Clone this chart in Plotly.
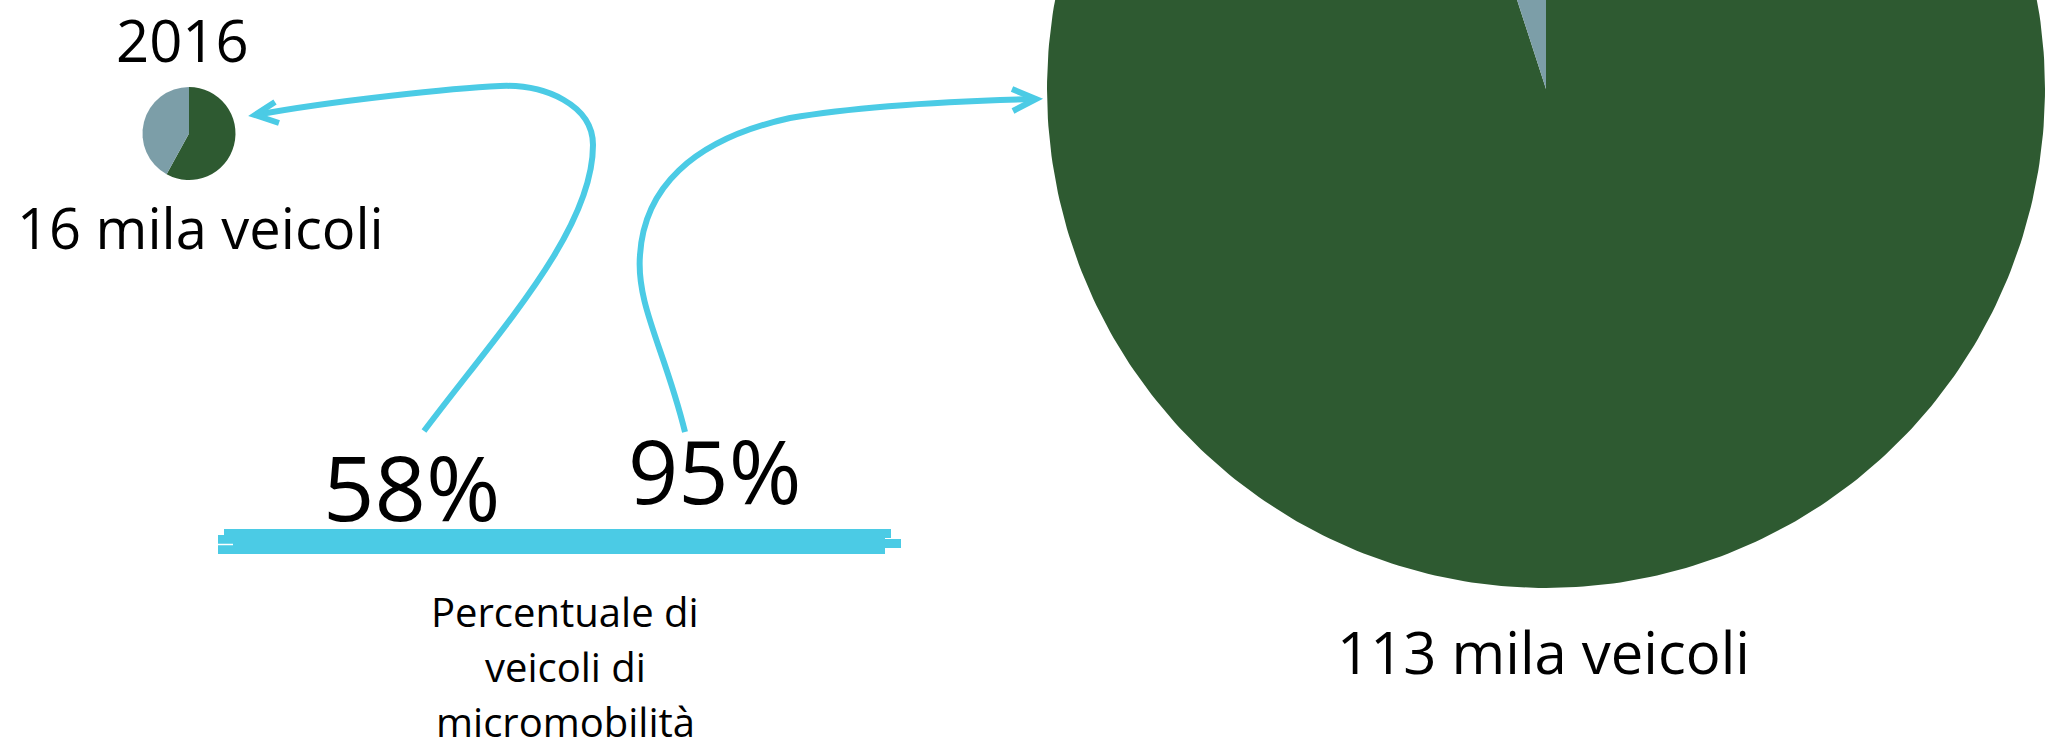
import numpy as np
import plotly.graph_objects as go

# --- data ---
slice_names = ["Micromobilità", "Altri veicoli"]
share_2016 = [58, 42]
share_recent = [95, 5]
total_2016 = "16 mila veicoli"
total_recent = "113 mila veicoli"
year_2016 = "2016"
caption_lines = ["Percentuale di", "veicoli di", "micromobilità"]

GREEN = "#2e5a31"
GREY = "#7c9ea8"
BLUE = "#4bcbe5"
W, H = 2048, 752
FONT = "Open Sans"

fig = go.Figure()

# small pie (2016)
cx_s, cy_s, r_s = 189, 133.5, 46.5
fig.add_trace(go.Pie(
    labels=slice_names, values=share_2016, sort=False, direction="clockwise",
    rotation=0, textinfo="none", hoverinfo="label+percent",
    marker=dict(colors=[GREEN, GREY], line=dict(width=0)),
    domain=dict(x=[(cx_s - r_s) / W, (cx_s + r_s) / W],
                y=[1 - (cy_s + r_s) / H, 1 - (cy_s - r_s) / H]),
    showlegend=False,
))

# large pie: extends past the top edge, so it is built as filled wedges on the
# pixel-space cartesian axes (clipped by the plot area)
cx_b, cy_b, r_b = 1546, 89, 499
fracs = np.cumsum([0] + share_recent) / np.sum(share_recent)
for name, color, a0, a1 in zip(slice_names, [GREEN, GREY], fracs[:-1], fracs[1:]):
    th = np.linspace(a0 * 2 * np.pi, a1 * 2 * np.pi, 400)
    xs = np.concatenate([[cx_b], cx_b + r_b * np.sin(th), [cx_b]])
    ys = np.concatenate([[cy_b], cy_b - r_b * np.cos(th), [cy_b]])
    fig.add_trace(go.Scatter(
        x=xs, y=ys, mode="lines", fill="toself", fillcolor=color,
        line=dict(width=0, color=color), name=name, hoverinfo="name",
        showlegend=False,
    ))

shapes = []
# curved arrows
arrow_style = dict(type="path", xref="x", yref="y",
                   line=dict(color=BLUE, width=6))
shapes.append(dict(arrow_style,
    path="M424,431 C500,330 593,230 593,145 C593,105 545,84 500,86 "
         "C455,88 330,101 256,115"))
shapes.append(dict(arrow_style, path="M275,102 L255,115 L279,123"))
shapes.append(dict(arrow_style,
    path="M685,432 C665,350 636,305 640,255 C644,190 690,140 790,118 "
         "C860,106 955,101 1035,99"))
shapes.append(dict(arrow_style, path="M1012,89 L1036,99 L1013,111"))

# brush-stroke bar under the percentages
rect = dict(type="rect", xref="x", yref="y", fillcolor=BLUE, line=dict(width=0))
shapes.append(dict(rect, x0=224, x1=891, y0=529, y1=538))
shapes.append(dict(rect, x0=218, x1=885, y0=535, y1=554))
shapes.append(dict(rect, x0=880, x1=901, y0=539, y1=548))
shapes.append(dict(type="line", xref="x", yref="y", x0=218, x1=233, y0=544.5,
                   y1=544.5, line=dict(color="white", width=1.5)))

annotations = []
def label(text, x, y, size):
    annotations.append(dict(text=text, x=x, y=y, xref="x", yref="y",
                            showarrow=False, xanchor="center", yanchor="middle",
                            font=dict(family=FONT, size=size, color="black")))

label(year_2016, 182, 39, 58)
label(total_2016, 200, 227, 56)
label(f"{share_2016[0]}%", 411, 486, 90)
label(f"{share_recent[0]}%", 714, 470, 88)
label(total_recent, 1543, 651, 58)
for i, line in enumerate(caption_lines):
    label(line, 565, 611 + 55 * i, 40)

fig.update_layout(
    width=W, height=H, margin=dict(l=0, r=0, t=0, b=0),
    paper_bgcolor="white", plot_bgcolor="white",
    xaxis=dict(range=[0, W], visible=False, fixedrange=True),
    yaxis=dict(range=[H, 0], visible=False, fixedrange=True),
    shapes=shapes, annotations=annotations, showlegend=False,
)

fig.write_html("out.html")
